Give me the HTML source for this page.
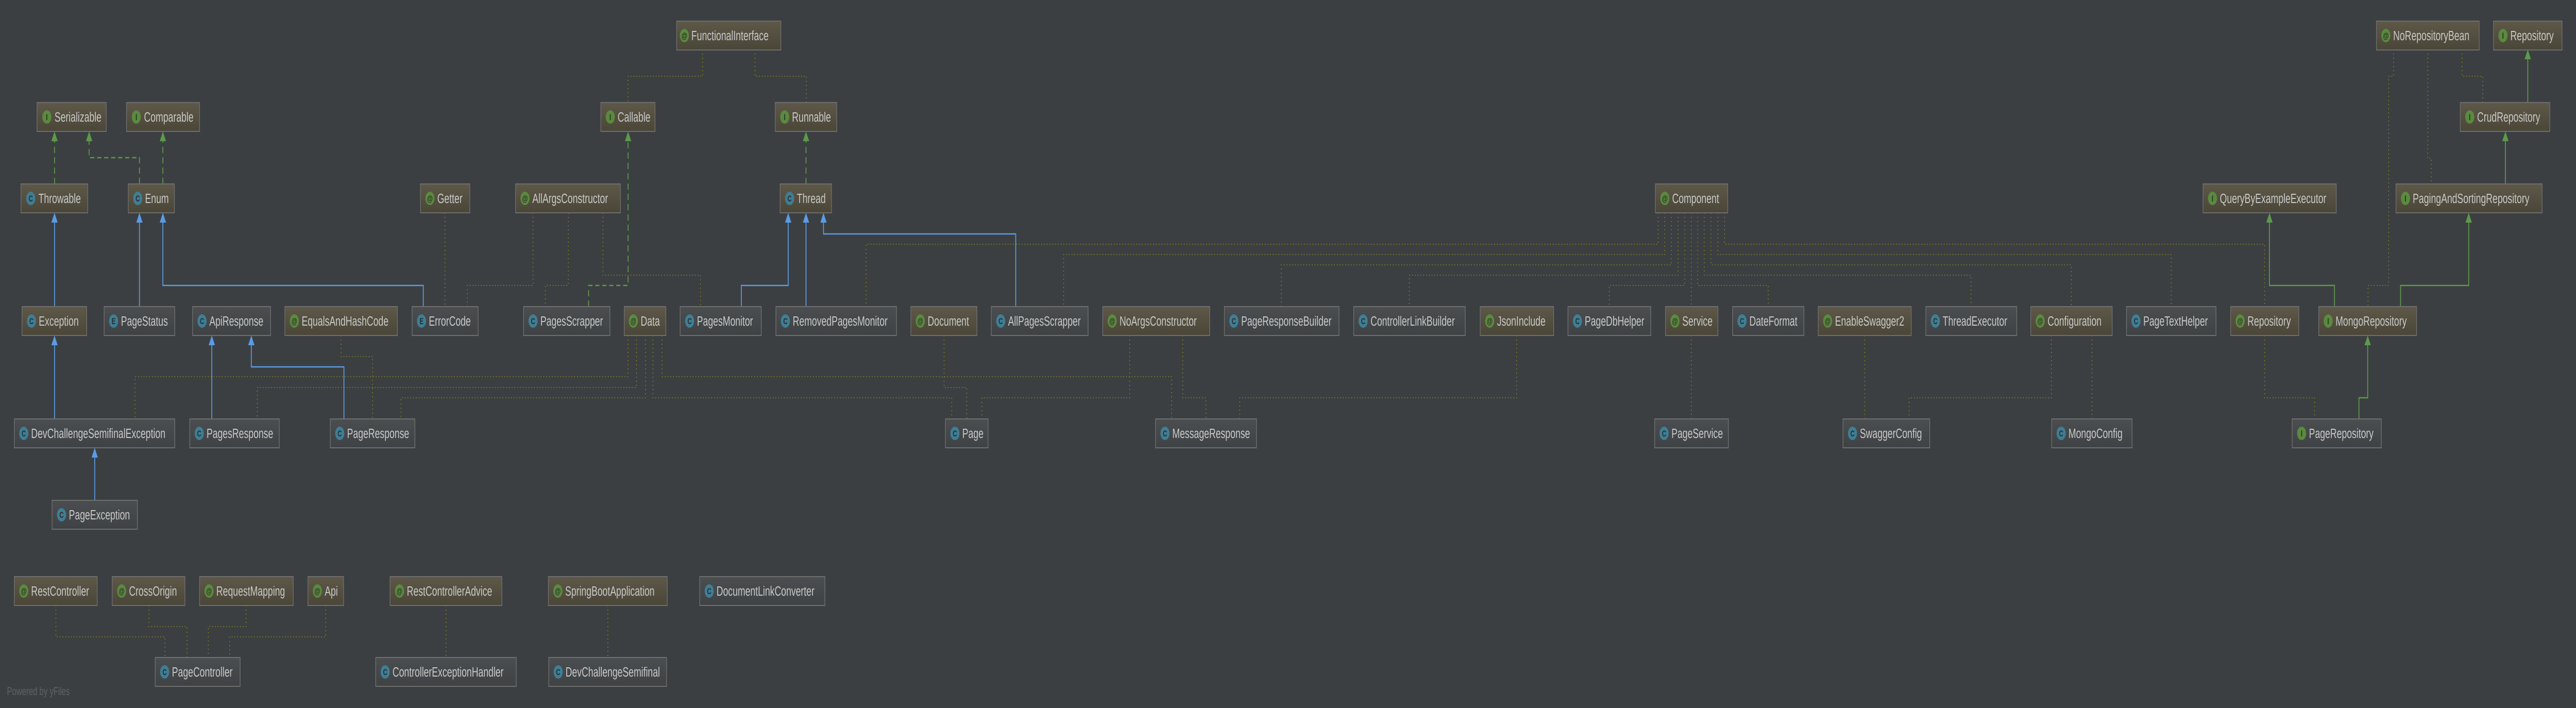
<!DOCTYPE html>
<html><head><meta charset="utf-8"><style>
html,body{margin:0;padding:0;background:#3c3f41;width:100%;height:100%;overflow:hidden;}
svg{display:block;width:100vw;height:100vh}
text{font-family:"Liberation Sans",sans-serif;}
.t{font-size:26px;fill:#c9c9c9}
.i{font-size:17px;fill:#2b2b2b;text-anchor:middle;font-weight:bold}
.d{fill:none;stroke:#85861f;stroke-width:2;stroke-dasharray:2 6}
.b{fill:none;stroke:#5a9be6;stroke-width:2.5}
.g{fill:none;stroke:#5c9a4b;stroke-width:2.5}
.gd{fill:none;stroke:#5c9a4b;stroke-width:2.5;stroke-dasharray:12 8}
.ab{fill:#5a9be6}.ag{fill:#5c9a4b}
</style></head><body>
<svg viewBox="0 0 7370 1374" preserveAspectRatio="none" xmlns="http://www.w3.org/2000/svg">
<defs>
<linearGradient id="ol" x1="0" y1="0" x2="0" y2="1"><stop offset="0" stop-color="#5e5848"/><stop offset="1" stop-color="#4a4638"/></linearGradient>
<linearGradient id="gr" x1="0" y1="0" x2="0" y2="1"><stop offset="0" stop-color="#4b4e50"/><stop offset="1" stop-color="#3f4244"/></linearGradient>
</defs>
<rect width="7370" height="1374" fill="#3c3f41"/>

<g class="d">
<polyline points="1273,413 1273,595"/>
<polyline points="1525,413 1525,554 1337,554 1337,595"/>
<polyline points="1626,413 1626,554 1560,554 1560,595"/>
<polyline points="1725,413 1725,534 2004,534 2004,595"/>
<polyline points="2010,96 2010,148 1797,148 1797,199"/>
<polyline points="2160,96 2160,148 2307,148 2307,199"/>
<polyline points="976,651 976,692 1066,692 1066,813"/>
<polyline points="1797,651 1797,731 386,731 386,813"/>
<polyline points="1821,651 1821,752 736,752 736,813"/>
<polyline points="1847,651 1847,772 1147,772 1147,813"/>
<polyline points="1868,651 1868,772 2723,772 2723,813"/>
<polyline points="1894,651 1894,731 3352,731 3352,813"/>
<polyline points="2701,651 2701,752 2766,752 2766,813"/>
<polyline points="3232,651 3232,772 2809,772 2809,813"/>
<polyline points="3384,651 3384,772 3450,772 3450,813"/>
<polyline points="4339,651 4339,772 3547,772 3547,813"/>
<polyline points="4744,413 4744,474 2478,474 2478,595"/>
<polyline points="4763,413 4763,494 3043,494 3043,595"/>
<polyline points="4782,413 4782,514 3666,514 3666,595"/>
<polyline points="4801,413 4801,534 4032,534 4032,595"/>
<polyline points="4820,413 4820,554 4604,554 4604,595"/>
<polyline points="4839,413 4839,595"/>
<polyline points="4857,413 4857,554 5059,554 5059,595"/>
<polyline points="4876,413 4876,534 5639,534 5639,595"/>
<polyline points="4895,413 4895,514 5926,514 5926,595"/>
<polyline points="4915,413 4915,494 6212,494 6212,595"/>
<polyline points="4934,413 4934,474 6479,474 6479,595"/>
<polyline points="4839,651 4839,813"/>
<polyline points="5335,651 5335,813"/>
<polyline points="5869,651 5869,772 5462,772 5462,813"/>
<polyline points="5985,651 5985,813"/>
<polyline points="6479,651 6479,772 6622,772 6622,813"/>
<polyline points="6848,96 6848,148 6834,148 6834,554 6775,554 6775,595"/>
<polyline points="6946,96 6946,307 6956,307 6956,357"/>
<polyline points="7044,96 7044,148 7103,148 7103,199"/>
<polyline points="160,1175 160,1236 472,1236 472,1276"/>
<polyline points="426,1175 426,1216 535,1216 535,1276"/>
<polyline points="704,1175 704,1216 596,1216 596,1276"/>
<polyline points="932,1175 932,1236 657,1236 657,1276"/>
<polyline points="1276,1175 1276,1276"/>
<polyline points="1739,1175 1739,1276"/>
</g>

<g class="b">
<polyline points="156,595 156,430"/>
<polyline points="156,813 156,668"/>
<polyline points="271,971 271,886"/>
<polyline points="399,595 399,430"/>
<polyline points="1211,595 1211,554 466,554 466,430"/>
<polyline points="606,813 606,668"/>
<polyline points="984,813 984,712 719,712 719,668"/>
<polyline points="2121,595 2121,554 2255,554 2255,430"/>
<polyline points="2306,595 2306,430"/>
<polyline points="2906,595 2906,454 2356,454 2356,430"/>
</g>
<g class="ab">
<polygon points="156,413 147,432 165,432"/>
<polygon points="156,651 147,670 165,670"/>
<polygon points="271,869 262,888 280,888"/>
<polygon points="399,413 390,432 408,432"/>
<polygon points="466,413 457,432 475,432"/>
<polygon points="606,651 597,670 615,670"/>
<polygon points="719,651 710,670 728,670"/>
<polygon points="2255,413 2246,432 2264,432"/>
<polygon points="2306,413 2297,432 2315,432"/>
<polygon points="2356,413 2347,432 2365,432"/>
</g>

<g class="gd">
<polyline points="156,357 156,272"/>
<polyline points="399,357 399,306 255,306 255,272"/>
<polyline points="466,357 466,272"/>
<polyline points="2306,357 2306,272"/>
<polyline points="1684,595 1684,554 1797,554 1797,272"/>
</g>
<g class="g">
<polyline points="7232,199 7232,113"/>
<polyline points="7168,357 7168,272"/>
<polyline points="6679,595 6679,554 6493,554 6493,430"/>
<polyline points="6868,595 6868,554 7063,554 7063,430"/>
<polyline points="6749,813 6749,772 6774,772 6774,668"/>
</g>
<g class="ag">
<polygon points="156,255 147,274 165,274"/>
<polygon points="255,255 246,274 264,274"/>
<polygon points="466,255 457,274 475,274"/>
<polygon points="2306,255 2297,274 2315,274"/>
<polygon points="1797,255 1788,274 1806,274"/>
<polygon points="7232,96 7223,115 7241,115"/>
<polygon points="7168,255 7159,274 7177,274"/>
<polygon points="6493,413 6484,432 6502,432"/>
<polygon points="7063,413 7054,432 7072,432"/>
<polygon points="6774,651 6765,670 6783,670"/>
</g>

<g id="nodes">
<g><rect x="1936" y="41" width="298" height="56" fill="url(#ol)" stroke="#6e6e6e" stroke-width="2"/><circle cx="1958" cy="69" r="13" fill="#5a8a3e"/><text class="i" x="1958" y="75">@</text><text class="t" x="1978" y="78">FunctionalInterface</text></g>

<g><rect x="106" y="199" width="198" height="56" fill="url(#ol)" stroke="#6e6e6e" stroke-width="2"/><circle cx="134" cy="227" r="13" fill="#5a8a3e"/><text class="i" x="134" y="233">I</text><text class="t" x="156" y="236">Serializable</text></g>
<g><rect x="362" y="199" width="209" height="56" fill="url(#ol)" stroke="#6e6e6e" stroke-width="2"/><circle cx="390" cy="227" r="13" fill="#5a8a3e"/><text class="i" x="390" y="233">I</text><text class="t" x="412" y="236">Comparable</text></g>
<g><rect x="1719" y="199" width="155" height="56" fill="url(#ol)" stroke="#6e6e6e" stroke-width="2"/><circle cx="1746" cy="227" r="13" fill="#5a8a3e"/><text class="i" x="1746" y="233">I</text><text class="t" x="1767" y="236">Callable</text></g>
<g><rect x="2218" y="199" width="176" height="56" fill="url(#ol)" stroke="#6e6e6e" stroke-width="2"/><circle cx="2245" cy="227" r="13" fill="#5a8a3e"/><text class="i" x="2245" y="233">I</text><text class="t" x="2266" y="236">Runnable</text></g>
<g><rect x="6799" y="41" width="294" height="56" fill="url(#ol)" stroke="#6e6e6e" stroke-width="2"/><circle cx="6826" cy="69" r="13" fill="#5a8a3e"/><text class="i" x="6826" y="75">@</text><text class="t" x="6847" y="78">NoRepositoryBean</text></g>
<g><rect x="7134" y="41" width="196" height="56" fill="url(#ol)" stroke="#6e6e6e" stroke-width="2"/><circle cx="7161" cy="69" r="13" fill="#5a8a3e"/><text class="i" x="7161" y="75">I</text><text class="t" x="7182" y="78">Repository</text></g>
<g><rect x="7039" y="199" width="256" height="56" fill="url(#ol)" stroke="#6e6e6e" stroke-width="2"/><circle cx="7066" cy="227" r="13" fill="#5a8a3e"/><text class="i" x="7066" y="233">I</text><text class="t" x="7087" y="236">CrudRepository</text></g>

<g><rect x="60" y="357" width="191" height="56" fill="url(#ol)" stroke="#6e6e6e" stroke-width="2"/><circle cx="88" cy="385" r="13" fill="#3f7e95"/><text class="i" x="88" y="391">C</text><text class="t" x="110" y="394">Throwable</text></g>
<g><rect x="367" y="357" width="132" height="56" fill="url(#ol)" stroke="#6e6e6e" stroke-width="2"/><circle cx="394" cy="385" r="13" fill="#3f7e95"/><text class="i" x="394" y="391">C</text><text class="t" x="415" y="394">Enum</text></g>
<g><rect x="1203" y="357" width="141" height="56" fill="url(#ol)" stroke="#6e6e6e" stroke-width="2"/><circle cx="1230" cy="385" r="13" fill="#5a8a3e"/><text class="i" x="1230" y="391">@</text><text class="t" x="1251" y="394">Getter</text></g>
<g><rect x="1475" y="357" width="300" height="56" fill="url(#ol)" stroke="#6e6e6e" stroke-width="2"/><circle cx="1502" cy="385" r="13" fill="#5a8a3e"/><text class="i" x="1502" y="391">@</text><text class="t" x="1523" y="394">AllArgsConstructor</text></g>
<g><rect x="2232" y="357" width="147" height="56" fill="url(#ol)" stroke="#6e6e6e" stroke-width="2"/><circle cx="2259" cy="385" r="13" fill="#3f7e95"/><text class="i" x="2259" y="391">C</text><text class="t" x="2280" y="394">Thread</text></g>
<g><rect x="4736" y="357" width="207" height="56" fill="url(#ol)" stroke="#6e6e6e" stroke-width="2"/><circle cx="4763" cy="385" r="13" fill="#5a8a3e"/><text class="i" x="4763" y="391">@</text><text class="t" x="4784" y="394">Component</text></g>
<g><rect x="6303" y="357" width="381" height="56" fill="url(#ol)" stroke="#6e6e6e" stroke-width="2"/><circle cx="6330" cy="385" r="13" fill="#5a8a3e"/><text class="i" x="6330" y="391">I</text><text class="t" x="6351" y="394">QueryByExampleExecutor</text></g>
<g><rect x="6855" y="357" width="418" height="56" fill="url(#ol)" stroke="#6e6e6e" stroke-width="2"/><circle cx="6882" cy="385" r="13" fill="#5a8a3e"/><text class="i" x="6882" y="391">I</text><text class="t" x="6903" y="394">PagingAndSortingRepository</text></g>

<g><rect x="63" y="595" width="185" height="56" fill="url(#ol)" stroke="#6e6e6e" stroke-width="2"/><circle cx="90" cy="623" r="13" fill="#3f7e95"/><text class="i" x="90" y="629">C</text><text class="t" x="111" y="632">Exception</text></g>
<g><rect x="298" y="595" width="202" height="56" fill="url(#gr)" stroke="#6e6e6e" stroke-width="2"/><circle cx="325" cy="623" r="13" fill="#3f7e95"/><text class="i" x="325" y="629">E</text><text class="t" x="346" y="632">PageStatus</text></g>
<g><rect x="551" y="595" width="223" height="56" fill="url(#gr)" stroke="#6e6e6e" stroke-width="2"/><circle cx="578" cy="623" r="13" fill="#3f7e95"/><text class="i" x="578" y="629">C</text><text class="t" x="599" y="632">ApiResponse</text></g>
<g><rect x="815" y="595" width="322" height="56" fill="url(#ol)" stroke="#6e6e6e" stroke-width="2"/><circle cx="842" cy="623" r="13" fill="#5a8a3e"/><text class="i" x="842" y="629">@</text><text class="t" x="863" y="632">EqualsAndHashCode</text></g>
<g><rect x="1179" y="595" width="189" height="56" fill="url(#gr)" stroke="#6e6e6e" stroke-width="2"/><circle cx="1206" cy="623" r="13" fill="#3f7e95"/><text class="i" x="1206" y="629">E</text><text class="t" x="1227" y="632">ErrorCode</text></g>
<g><rect x="1498" y="595" width="247" height="56" fill="url(#gr)" stroke="#6e6e6e" stroke-width="2"/><circle cx="1525" cy="623" r="13" fill="#3f7e95"/><text class="i" x="1525" y="629">C</text><text class="t" x="1546" y="632">PagesScrapper</text></g>
<g><rect x="1786" y="595" width="119" height="56" fill="url(#ol)" stroke="#6e6e6e" stroke-width="2"/><circle cx="1812" cy="623" r="13" fill="#5a8a3e"/><text class="i" x="1812" y="629">@</text><text class="t" x="1833" y="632">Data</text></g>
<g><rect x="1946" y="595" width="232" height="56" fill="url(#gr)" stroke="#6e6e6e" stroke-width="2"/><circle cx="1973" cy="623" r="13" fill="#3f7e95"/><text class="i" x="1973" y="629">C</text><text class="t" x="1994" y="632">PagesMonitor</text></g>
<g><rect x="2220" y="595" width="345" height="56" fill="url(#gr)" stroke="#6e6e6e" stroke-width="2"/><circle cx="2247" cy="623" r="13" fill="#3f7e95"/><text class="i" x="2247" y="629">C</text><text class="t" x="2268" y="632">RemovedPagesMonitor</text></g>
<g><rect x="2606" y="595" width="189" height="56" fill="url(#ol)" stroke="#6e6e6e" stroke-width="2"/><circle cx="2633" cy="623" r="13" fill="#5a8a3e"/><text class="i" x="2633" y="629">@</text><text class="t" x="2654" y="632">Document</text></g>
<g><rect x="2836" y="595" width="277" height="56" fill="url(#gr)" stroke="#6e6e6e" stroke-width="2"/><circle cx="2863" cy="623" r="13" fill="#3f7e95"/><text class="i" x="2863" y="629">C</text><text class="t" x="2884" y="632">AllPagesScrapper</text></g>
<g><rect x="3155" y="595" width="306" height="56" fill="url(#ol)" stroke="#6e6e6e" stroke-width="2"/><circle cx="3182" cy="623" r="13" fill="#5a8a3e"/><text class="i" x="3182" y="629">@</text><text class="t" x="3203" y="632">NoArgsConstructor</text></g>
<g><rect x="3503" y="595" width="328" height="56" fill="url(#gr)" stroke="#6e6e6e" stroke-width="2"/><circle cx="3530" cy="623" r="13" fill="#3f7e95"/><text class="i" x="3530" y="629">C</text><text class="t" x="3551" y="632">PageResponseBuilder</text></g>
<g><rect x="3873" y="595" width="319" height="56" fill="url(#gr)" stroke="#6e6e6e" stroke-width="2"/><circle cx="3900" cy="623" r="13" fill="#3f7e95"/><text class="i" x="3900" y="629">C</text><text class="t" x="3921" y="632">ControllerLinkBuilder</text></g>
<g><rect x="4235" y="595" width="210" height="56" fill="url(#ol)" stroke="#6e6e6e" stroke-width="2"/><circle cx="4262" cy="623" r="13" fill="#5a8a3e"/><text class="i" x="4262" y="629">@</text><text class="t" x="4283" y="632">JsonInclude</text></g>
<g><rect x="4486" y="595" width="237" height="56" fill="url(#gr)" stroke="#6e6e6e" stroke-width="2"/><circle cx="4513" cy="623" r="13" fill="#3f7e95"/><text class="i" x="4513" y="629">C</text><text class="t" x="4534" y="632">PageDbHelper</text></g>
<g><rect x="4765" y="595" width="150" height="56" fill="url(#ol)" stroke="#6e6e6e" stroke-width="2"/><circle cx="4792" cy="623" r="13" fill="#5a8a3e"/><text class="i" x="4792" y="629">@</text><text class="t" x="4813" y="632">Service</text></g>
<g><rect x="4957" y="595" width="204" height="56" fill="url(#gr)" stroke="#6e6e6e" stroke-width="2"/><circle cx="4984" cy="623" r="13" fill="#3f7e95"/><text class="i" x="4984" y="629">C</text><text class="t" x="5005" y="632">DateFormat</text></g>
<g><rect x="5202" y="595" width="266" height="56" fill="url(#ol)" stroke="#6e6e6e" stroke-width="2"/><circle cx="5229" cy="623" r="13" fill="#5a8a3e"/><text class="i" x="5229" y="629">@</text><text class="t" x="5250" y="632">EnableSwagger2</text></g>
<g><rect x="5510" y="595" width="260" height="56" fill="url(#gr)" stroke="#6e6e6e" stroke-width="2"/><circle cx="5537" cy="623" r="13" fill="#3f7e95"/><text class="i" x="5537" y="629">C</text><text class="t" x="5558" y="632">ThreadExecutor</text></g>
<g><rect x="5810" y="595" width="233" height="56" fill="url(#ol)" stroke="#6e6e6e" stroke-width="2"/><circle cx="5837" cy="623" r="13" fill="#5a8a3e"/><text class="i" x="5837" y="629">@</text><text class="t" x="5858" y="632">Configuration</text></g>
<g><rect x="6084" y="595" width="256" height="56" fill="url(#gr)" stroke="#6e6e6e" stroke-width="2"/><circle cx="6111" cy="623" r="13" fill="#3f7e95"/><text class="i" x="6111" y="629">C</text><text class="t" x="6132" y="632">PageTextHelper</text></g>
<g><rect x="6382" y="595" width="195" height="56" fill="url(#ol)" stroke="#6e6e6e" stroke-width="2"/><circle cx="6409" cy="623" r="13" fill="#5a8a3e"/><text class="i" x="6409" y="629">@</text><text class="t" x="6430" y="632">Repository</text></g>
<g><rect x="6634" y="595" width="280" height="56" fill="url(#ol)" stroke="#6e6e6e" stroke-width="2"/><circle cx="6661" cy="623" r="13" fill="#5a8a3e"/><text class="i" x="6661" y="629">I</text><text class="t" x="6682" y="632">MongoRepository</text></g>

<g><rect x="41" y="813" width="459" height="56" fill="url(#gr)" stroke="#6e6e6e" stroke-width="2"/><circle cx="68" cy="841" r="13" fill="#3f7e95"/><text class="i" x="68" y="847">C</text><text class="t" x="89" y="850">DevChallengeSemifinalException</text></g>
<g><rect x="543" y="813" width="256" height="56" fill="url(#gr)" stroke="#6e6e6e" stroke-width="2"/><circle cx="570" cy="841" r="13" fill="#3f7e95"/><text class="i" x="570" y="847">C</text><text class="t" x="591" y="850">PagesResponse</text></g>
<g><rect x="945" y="813" width="242" height="56" fill="url(#gr)" stroke="#6e6e6e" stroke-width="2"/><circle cx="972" cy="841" r="13" fill="#3f7e95"/><text class="i" x="972" y="847">C</text><text class="t" x="993" y="850">PageResponse</text></g>
<g><rect x="2705" y="813" width="122" height="56" fill="url(#gr)" stroke="#6e6e6e" stroke-width="2"/><circle cx="2732" cy="841" r="13" fill="#3f7e95"/><text class="i" x="2732" y="847">C</text><text class="t" x="2753" y="850">Page</text></g>
<g><rect x="3306" y="813" width="289" height="56" fill="url(#gr)" stroke="#6e6e6e" stroke-width="2"/><circle cx="3333" cy="841" r="13" fill="#3f7e95"/><text class="i" x="3333" y="847">C</text><text class="t" x="3354" y="850">MessageResponse</text></g>
<g><rect x="4734" y="813" width="211" height="56" fill="url(#gr)" stroke="#6e6e6e" stroke-width="2"/><circle cx="4761" cy="841" r="13" fill="#3f7e95"/><text class="i" x="4761" y="847">C</text><text class="t" x="4782" y="850">PageService</text></g>
<g><rect x="5273" y="813" width="248" height="56" fill="url(#gr)" stroke="#6e6e6e" stroke-width="2"/><circle cx="5300" cy="841" r="13" fill="#3f7e95"/><text class="i" x="5300" y="847">C</text><text class="t" x="5321" y="850">SwaggerConfig</text></g>
<g><rect x="5870" y="813" width="230" height="56" fill="url(#gr)" stroke="#6e6e6e" stroke-width="2"/><circle cx="5897" cy="841" r="13" fill="#3f7e95"/><text class="i" x="5897" y="847">C</text><text class="t" x="5918" y="850">MongoConfig</text></g>
<g><rect x="6558" y="813" width="255" height="56" fill="url(#gr)" stroke="#6e6e6e" stroke-width="2"/><circle cx="6585" cy="841" r="13" fill="#5a8a3e"/><text class="i" x="6585" y="847">I</text><text class="t" x="6606" y="850">PageRepository</text></g>

<g><rect x="149" y="971" width="244" height="56" fill="url(#gr)" stroke="#6e6e6e" stroke-width="2"/><circle cx="176" cy="999" r="13" fill="#3f7e95"/><text class="i" x="176" y="1005">C</text><text class="t" x="197" y="1008">PageException</text></g>

<g><rect x="41" y="1119" width="237" height="56" fill="url(#ol)" stroke="#6e6e6e" stroke-width="2"/><circle cx="68" cy="1147" r="13" fill="#5a8a3e"/><text class="i" x="68" y="1153">@</text><text class="t" x="89" y="1156">RestController</text></g>
<g><rect x="321" y="1119" width="208" height="56" fill="url(#ol)" stroke="#6e6e6e" stroke-width="2"/><circle cx="348" cy="1147" r="13" fill="#5a8a3e"/><text class="i" x="348" y="1153">@</text><text class="t" x="369" y="1156">CrossOrigin</text></g>
<g><rect x="571" y="1119" width="268" height="56" fill="url(#ol)" stroke="#6e6e6e" stroke-width="2"/><circle cx="598" cy="1147" r="13" fill="#5a8a3e"/><text class="i" x="598" y="1153">@</text><text class="t" x="619" y="1156">RequestMapping</text></g>
<g><rect x="881" y="1119" width="102" height="56" fill="url(#ol)" stroke="#6e6e6e" stroke-width="2"/><circle cx="908" cy="1147" r="13" fill="#5a8a3e"/><text class="i" x="908" y="1153">@</text><text class="t" x="929" y="1156">Api</text></g>
<g><rect x="1116" y="1119" width="320" height="56" fill="url(#ol)" stroke="#6e6e6e" stroke-width="2"/><circle cx="1143" cy="1147" r="13" fill="#5a8a3e"/><text class="i" x="1143" y="1153">@</text><text class="t" x="1164" y="1156">RestControllerAdvice</text></g>
<g><rect x="1569" y="1119" width="340" height="56" fill="url(#ol)" stroke="#6e6e6e" stroke-width="2"/><circle cx="1596" cy="1147" r="13" fill="#5a8a3e"/><text class="i" x="1596" y="1153">@</text><text class="t" x="1617" y="1156">SpringBootApplication</text></g>
<g><rect x="2002" y="1119" width="358" height="56" fill="url(#gr)" stroke="#6e6e6e" stroke-width="2"/><circle cx="2029" cy="1147" r="13" fill="#3f7e95"/><text class="i" x="2029" y="1153">C</text><text class="t" x="2050" y="1156">DocumentLinkConverter</text></g>

<g><rect x="444" y="1276" width="243" height="56" fill="url(#gr)" stroke="#6e6e6e" stroke-width="2"/><circle cx="471" cy="1304" r="13" fill="#3f7e95"/><text class="i" x="471" y="1310">C</text><text class="t" x="492" y="1313">PageController</text></g>
<g><rect x="1075" y="1276" width="402" height="56" fill="url(#gr)" stroke="#6e6e6e" stroke-width="2"/><circle cx="1102" cy="1304" r="13" fill="#3f7e95"/><text class="i" x="1102" y="1310">C</text><text class="t" x="1123" y="1313">ControllerExceptionHandler</text></g>
<g><rect x="1570" y="1276" width="337" height="56" fill="url(#gr)" stroke="#6e6e6e" stroke-width="2"/><circle cx="1597" cy="1304" r="13" fill="#3f7e95"/><text class="i" x="1597" y="1310">C</text><text class="t" x="1618" y="1313">DevChallengeSemifinal</text></g>
</g>

<text x="20" y="1349" style="font-size:22px;fill:#5f6366">Powered by yFiles</text>
</svg>
</body></html>
